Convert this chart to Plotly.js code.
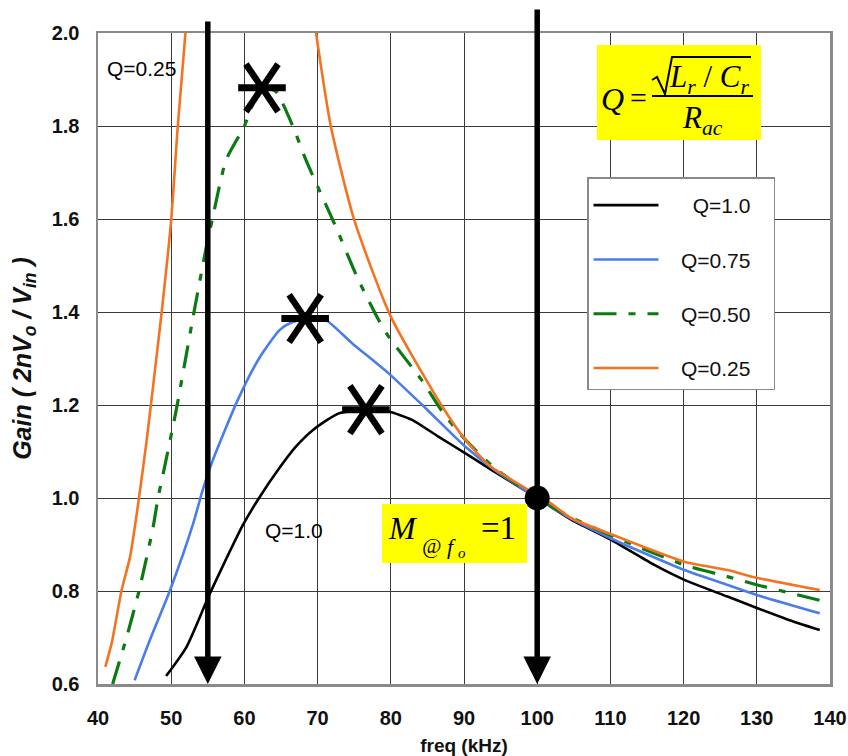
<!DOCTYPE html>
<html><head><meta charset="utf-8">
<script src="https://cdn.plot.ly/plotly-3.0.1.min.js"></script>
<style>html,body{margin:0;padding:0;background:#fff;}#chart{width:848px;height:756px;}</style>
</head><body><div id="chart"></div>
<script>
// ---- data ----
const seriesNames = ['Q=1.0', 'Q=0.75', 'Q=0.50', 'Q=0.25'];

const freqQ100 = [49.3, 52.1, 55.1, 57.0, 59.8, 62.0, 64.8, 67.0, 69.5, 72.9, 76.6, 79.7, 82.9, 86.5, 90.2, 93.8, 100, 104.7, 110.1, 116, 120.1, 126, 130.1, 134, 138.6];
const gainQ100 = [0.617, 0.68, 0.788, 0.852, 0.942, 1.0, 1.065, 1.11, 1.148, 1.182, 1.19, 1.186, 1.168, 1.132, 1.096, 1.06, 1.0, 0.953, 0.91, 0.856, 0.824, 0.788, 0.763, 0.74, 0.716];

const freqQ075 = [45.0, 47.1, 49.8, 53.0, 54.3, 55.7, 59.1, 62.0, 64.8, 66.5, 69.3, 71.1, 74.7, 79.7, 84.3, 90.2, 94.2, 100, 104.7, 110.1, 120.1, 126, 130.1, 138.6];
const gainQ075 = [0.608, 0.695, 0.80, 0.945, 1.017, 1.082, 1.211, 1.30, 1.361, 1.378, 1.387, 1.383, 1.333, 1.268, 1.20, 1.11, 1.06, 1.0, 0.955, 0.913, 0.845, 0.813, 0.791, 0.752];

const freqQ050 = [42.0, 43.9, 45.6, 47.5, 48.2, 49.1, 50.7, 53.0, 54.8, 55.6, 57.5, 60.0, 62.0, 62.5, 64.3, 66.6, 68.4, 70.0, 72.5, 75.4, 78.1, 79.7, 84.2, 87.2, 90.2, 94.2, 100, 104.7, 110, 120.1, 126, 130.1, 138.6];
const gainQ050 = [0.60, 0.70, 0.80, 0.935, 1.0, 1.067, 1.19, 1.39, 1.54, 1.598, 1.727, 1.80, 1.88, 1.885, 1.874, 1.80, 1.727, 1.67, 1.583, 1.475, 1.39, 1.347, 1.254, 1.182, 1.125, 1.064, 1.0, 0.958, 0.92, 0.856, 0.831, 0.813, 0.78];

// Q=0.25 has two branches (gain runs off the top of the axis); null separates them
const freqQ025 = [41.0, 41.9, 43.2, 44.4, 45.6, 46.6, 47.3, 48.7, 50.0, 50.9, 52.0, null, 69.6, 71.8, 75.0, 80.0, 86.9, 90.2, 93.7, 98.8, 100, 101.5, 104.6, 110.1, 120.1, 126, 130.1, 138.6];
const gainQ025 = [0.637, 0.69, 0.80, 0.875, 1.0, 1.118, 1.21, 1.40, 1.598, 1.80, 2.01, null, 2.02, 1.80, 1.598, 1.39, 1.20, 1.125, 1.067, 1.017, 1.0, 0.992, 0.957, 0.922, 0.863, 0.845, 0.828, 0.802];

const peakFreq = [62.4, 68.3, 76.6];
const peakGain = [1.882, 1.386, 1.19];

const arrowFreq = [55, 100];
const unityFreq = [100];
const unityGain = [1.0];

const xTicks = [40, 50, 60, 70, 80, 90, 100, 110, 120, 130, 140];
const yTicks = [0.6, 0.8, 1.0, 1.2, 1.4, 1.6, 1.8, 2.0];

const curveLabels = ['Q=0.25', 'Q=1.0'];

// ---- geometry helpers (pixel -> data) for annotation placement ----
const X0 = 98, X1 = 830, Y0 = 33, Y1 = 684;
const fx = px => 40 + (px - X0) * 100 / (X1 - X0);
const gy = py => 2.0 - (py - Y0) * 1.4 / (Y1 - Y0);

const SANS = 'Liberation Sans, Arial, sans-serif';
const SERIF = 'Liberation Serif, Times New Roman, serif';

const colors = ['#000000', '#4a7de8', '#0b7a12', '#f47320'];

// legend labels are right-aligned in the original: pad with no-break spaces
const NB = '\u00a0';
const legendNames = seriesNames.map(s => NB.repeat(3 + (s.length < 6 ? 2 : 0)) + s + NB.repeat(3));

function curve(x, y, i, extra) {
  return Object.assign({
    x: x, y: y, type: 'scatter', mode: 'lines', name: legendNames[i],
    legendgroup: 'g' + i,
    line: {color: colors[i], width: 2.6, shape: 'spline', smoothing: 0.6},
    connectgaps: false, hoverinfo: 'skip'
  }, extra || {});
}

const traces = [
  curve(freqQ100, gainQ100, 0),
  curve(freqQ075, gainQ075, 1),
  curve(freqQ050, gainQ050, 2, {line: {color: colors[2], width: 3.2, shape: 'spline', smoothing: 0.6, dash: '23px,12px,7px,12px'}}),
  curve(freqQ025, gainQ025, 3),
  // asterisk-like peak markers: one horizontal bar and two steep arms
  {x: peakFreq, y: peakGain, type: 'scatter', mode: 'markers', showlegend: false, hoverinfo: 'skip', cliponaxis: false,
   marker: {symbol: 'line-ew-open', size: 34, color: '#000', line: {width: 7, color: '#000'}}},
  {x: peakFreq, y: peakGain, type: 'scatter', mode: 'markers', showlegend: false, hoverinfo: 'skip', cliponaxis: false,
   marker: {symbol: 'line-ew-open', size: 41, angle: 56, color: '#000', line: {width: 6.5, color: '#000'}}},
  {x: peakFreq, y: peakGain, type: 'scatter', mode: 'markers', showlegend: false, hoverinfo: 'skip', cliponaxis: false,
   marker: {symbol: 'line-ew-open', size: 41, angle: -56, color: '#000', line: {width: 6.5, color: '#000'}}},
  {x: unityFreq, y: unityGain, type: 'scatter', mode: 'markers', showlegend: false, hoverinfo: 'skip', cliponaxis: false,
   marker: {symbol: 'circle', size: 25, color: '#000'}}
];

const yellow = '#ffff00';
const shapes = [
  {type: 'rect', xref: 'x', yref: 'y', x0: fx(597), x1: fx(761), y0: gy(45), y1: gy(140), fillcolor: yellow, line: {width: 0}, layer: 'above'},
  {type: 'rect', xref: 'x', yref: 'y', x0: fx(382), x1: fx(527), y0: gy(504), y1: gy(563), fillcolor: yellow, line: {width: 0}, layer: 'above'},
  // radical sign with overbar
  {type: 'path', xref: 'x', yref: 'y', layer: 'above', line: {color: '#000', width: 2},
   path: 'M' + fx(652) + ',' + gy(80) + ' L' + fx(657) + ',' + gy(77) + ' L' + fx(665) + ',' + gy(94) + ' L' + fx(672) + ',' + gy(57) + ' L' + fx(751) + ',' + gy(57)},
  // fraction bar
  {type: 'line', xref: 'x', yref: 'y', layer: 'above', x0: fx(652), x1: fx(753), y0: gy(96), y1: gy(96), line: {color: '#000', width: 2}}
];

function txt(px, py, text, size, family, extra) {
  return Object.assign({x: fx(px), y: gy(py), xref: 'x', yref: 'y', text: text, showarrow: false,
    xanchor: 'center', yanchor: 'middle', font: {family: family, size: size, color: '#000'}}, extra || {});
}

const annotations = [
  // vertical arrows
  {x: arrowFreq[0], y: 0.6, ax: arrowFreq[0], ay: gy(20), xref: 'x', yref: 'y', axref: 'x', ayref: 'y', text: '',
   showarrow: true, arrowhead: 2, arrowsize: 1, arrowwidth: 5.5, arrowcolor: '#000', standoff: 0},
  {x: arrowFreq[1], y: 0.6, ax: arrowFreq[1], ay: gy(8), xref: 'x', yref: 'y', axref: 'x', ayref: 'y', text: '',
   showarrow: true, arrowhead: 2, arrowsize: 1, arrowwidth: 5.5, arrowcolor: '#000', standoff: 0},
  // curve labels
  txt(141, 68, curveLabels[0], 21, SANS),
  txt(294, 530, curveLabels[1], 21, SANS),
  // Q formula
  txt(612, 99, '<i>Q</i>', 32, SERIF),
  txt(638, 97, '=', 30, SERIF),
  txt(709, 79, '<i>L<sub>r</sub></i> / <i>C<sub>r</sub></i>', 31, SERIF),
  txt(702, 120, '<i>R<sub>ac</sub></i>', 31, SERIF),
  // M @ fo = 1
  txt(403, 528, '<i>M</i>', 32, SERIF),
  txt(431, 546, '<i>@</i>', 21, SERIF),
  txt(451, 546, '<i>f</i>', 22, SERIF),
  txt(462, 553, '<i>o</i>', 15, SERIF),
  txt(498, 528, '=1', 33, SERIF)
];

const layout = {
  width: 848, height: 756,
  margin: {l: X0, r: 848 - X1, t: Y0, b: 756 - Y1},
  paper_bgcolor: '#fff', plot_bgcolor: '#fff',
  showlegend: true,
  legend: {
    x: (587 - X0) / (X1 - X0), y: 1 - (177 - Y0) / (Y1 - Y0), xanchor: 'left', yanchor: 'top',
    bgcolor: '#fff', bordercolor: '#8a8a8a', borderwidth: 1.5,
    font: {family: SANS, size: 21, color: '#111'},
    title: {text: NB, font: {size: 5}},
    itemwidth: 65, tracegroupgap: 24, traceorder: 'grouped'
  },
  xaxis: {
    range: [40, 140], tickvals: xTicks, ticktext: xTicks.map(String),
    showgrid: true, gridcolor: '#3a3a3a', gridwidth: 1, zeroline: false,
    showline: true, mirror: true, linecolor: '#8a8a8a', linewidth: 2.5,
    ticks: '', ticklabelstandoff: 14, ticklabeloverflow: 'allow',
    tickfont: {family: SANS, size: 20, color: '#111', weight: 'bold'},
    title: {text: 'freq (kHz)', font: {family: SANS, size: 19, color: '#111', weight: 'bold'}, standoff: 14}
  },
  yaxis: {
    range: [0.6, 2.0], tickvals: yTicks, ticktext: yTicks.map(v => v.toFixed(1)),
    showgrid: true, gridcolor: '#3a3a3a', gridwidth: 1, zeroline: false,
    showline: true, mirror: true, linecolor: '#8a8a8a', linewidth: 2.5,
    ticks: '', ticklabelstandoff: 12,
    tickfont: {family: SANS, size: 20, color: '#111', weight: 'bold'},
    title: {text: '<i>Gain ( 2nV<sub>o</sub> / V<sub>in</sub> )</i>' + NB.repeat(6), font: {family: SANS, size: 25, color: '#111', weight: 'bold', style: 'italic'}, standoff: 13}
  },
  shapes: shapes,
  annotations: annotations
};

Plotly.newPlot('chart', traces, layout, {staticPlot: true, displayModeBar: false});
</script>
</body></html>
